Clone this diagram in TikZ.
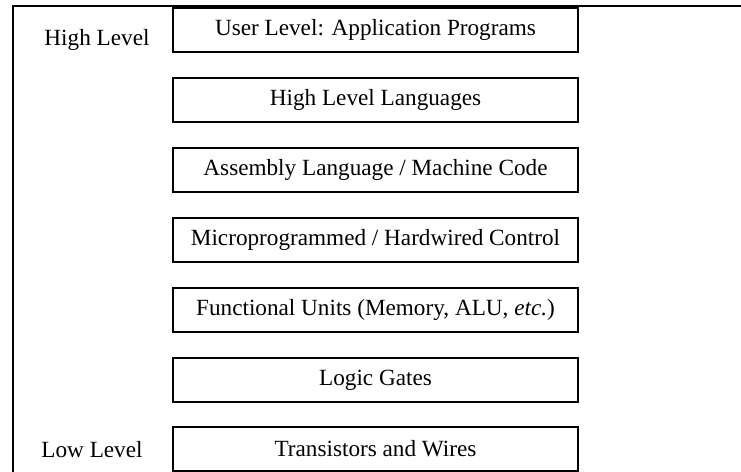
\documentclass[tikz,border=0pt]{standalone}
\usepackage{fontspec}
\setmainfont{Liberation Serif}
\usepackage{tikz}

\begin{document}
\begin{tikzpicture}[x=0.5pt,y=-0.5pt,
  layer/.style={draw,line width=0.9pt,minimum width=202.5pt,minimum height=22pt,inner sep=0pt},
  every node/.style={font=\fontsize{11.6}{14}\selectfont}]
  \useasboundingbox (0,0) rectangle (741,472);

  \draw[line width=1pt] (13,473) -- (13,6) -- (742,6);

  \node at (97,40) (high) {High Level};
  \node at (92,450) (low) {Low Level};

  \node[layer] at (375.5,30) (user) {User Level: Application Programs};
  \node[layer] at (375.5,100) (hll) {High Level Languages};
  \node[layer] at (375.5,170) (asm) {Assembly Language / Machine Code};
  \node[layer] at (375.5,240) (ctrl) {Microprogrammed / Hardwired Control};
  \node[layer] at (375.5,310) (func) {Functional Units (Memory, ALU, \textit{etc.})};
  \node[layer] at (375.5,380) (gates) {Logic Gates};
  \node[layer] at (375.5,449) (trans) {Transistors and Wires};
\end{tikzpicture}
\end{document}
